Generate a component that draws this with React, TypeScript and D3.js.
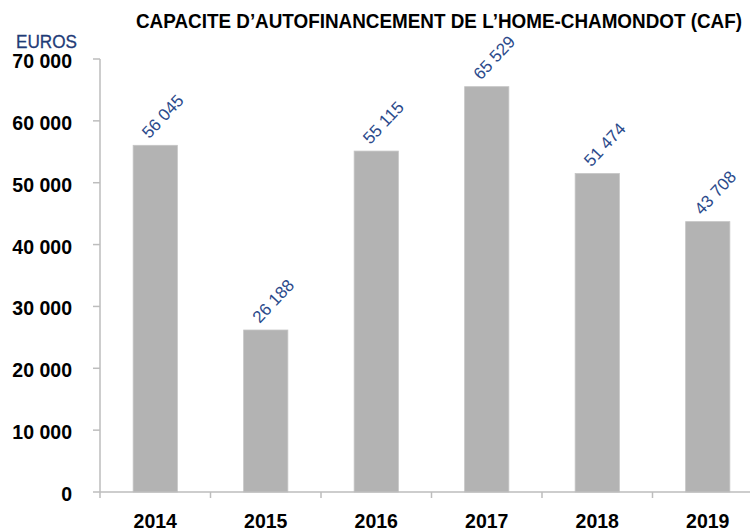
import React, { useLayoutEffect, useRef, useState } from "react";
import * as d3 from "d3";

const years = ["2014", "2015", "2016", "2017", "2018", "2019"];
const values = [56045, 26188, 55115, 65529, 51474, 43708];
const yTicks = [0, 10000, 20000, 30000, 40000, 50000, 60000, 70000];
const titleText = "CAPACITE D\u2019AUTOFINANCEMENT DE L\u2019HOME-CHAMONDOT (CAF)";
const unitText = "EUROS";

const W = 750;
const H = 531;
const left = 100;
const right = 763;
const top = 59;
const bottom = 492;
const titleWidth = 606;

const fr = d3.formatLocale({ decimal: ",", thousands: " ", grouping: [3], currency: ["", " €"] });
const fmt = fr.format(",d");

export default function App() {
  const titleRef = useRef<SVGTextElement>(null);
  const [titleScale, setTitleScale] = useState(0.88);
  useLayoutEffect(() => {
    if (titleRef.current) {
      const len = titleRef.current.getComputedTextLength();
      if (len > 0) setTitleScale(titleWidth / len);
    }
  }, []);

  const x = d3.scaleBand().domain(years).range([left, right]).paddingInner(0.6).paddingOuter(0.3);
  const y = d3.scaleLinear().domain([0, 70000]).range([bottom, top]);
  const step = x.step();
  const axisColor = "#bdbdbd";
  const font = "'Liberation Sans', Arial, sans-serif";

  return (
    <svg width={W} height={H} style={{ position: "absolute", left: 0, top: 0, background: "#fff" }}>
      <text ref={titleRef} transform={`translate(136,28) scale(${titleScale},1)`} fontFamily={font}
        fontWeight="bold" fontSize={21} fill="#000">{titleText}</text>
      <text x={16} y={48} fontFamily={font} fontSize={18} fill="#1f3b77" stroke="#1f3b77" strokeWidth={0.3}
        textLength={61} lengthAdjust="spacingAndGlyphs">{unitText}</text>

      {/* y axis */}
      <line x1={left} x2={left} y1={y(70000)} y2={y(0)} stroke={axisColor} strokeWidth={1.5} />
      {yTicks.map((t) => (
        <g key={t}>
          <line x1={left - 7} x2={left} y1={y(t)} y2={y(t)} stroke={axisColor} strokeWidth={1.5} />
          <text x={72} y={y(t) + 9} textAnchor="end" fontFamily={font} fontWeight="bold" fontSize={19.5} fill="#000">
            {fmt(t)}
          </text>
        </g>
      ))}

      {/* bars */}
      {years.map((yr, i) => (
        <rect key={yr} x={x(yr)} y={y(values[i])} width={x.bandwidth()} height={y(0) - y(values[i])}
          fill="#b3b3b3" stroke="#c4c4c4" strokeWidth={0.8} />
      ))}

      {/* x axis */}
      <line x1={left} x2={right} y1={y(0)} y2={y(0)} stroke={axisColor} strokeWidth={1.5} />
      {d3.range(years.length + 1).map((i) => (
        <line key={i} x1={left + i * step} x2={left + i * step} y1={y(0)} y2={y(0) + 6} stroke={axisColor} strokeWidth={1.5} />
      ))}
      {years.map((yr) => (
        <text key={yr} x={(x(yr) as number) + x.bandwidth() / 2} y={528} textAnchor="middle"
          fontFamily={font} fontWeight="bold" fontSize={19.5} fill="#000">{yr}</text>
      ))}

      {/* value labels */}
      {years.map((yr, i) => {
        const cx = (x(yr) as number) + x.bandwidth() / 2 - 6;
        const cy = y(values[i]) - 6;
        return (
          <text key={yr} transform={`translate(${cx},${cy}) rotate(-47)`} fontFamily={font}
            fontSize={17} fill="#2b4a8b">{fmt(values[i])}</text>
        );
      })}
    </svg>
  );
}
